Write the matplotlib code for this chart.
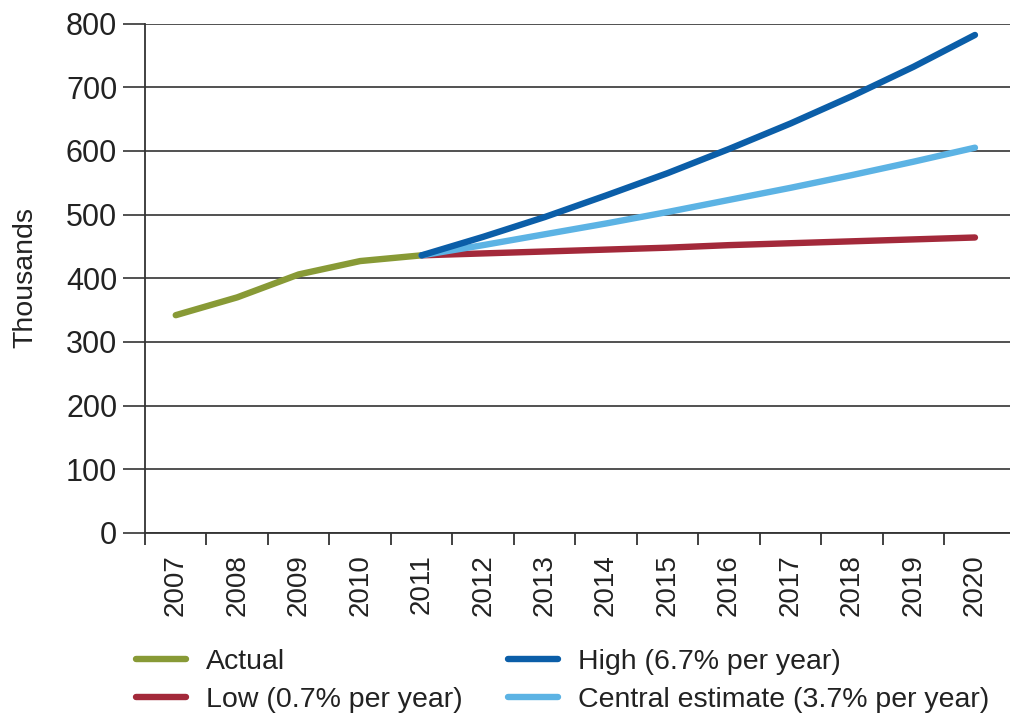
import numpy as np
import matplotlib
matplotlib.use("Agg")
import matplotlib.pyplot as plt

plt.rcParams['font.family'] = ['Liberation Sans', 'DejaVu Sans']

years = ['2007', '2008', '2009', '2010', '2011', '2012', '2013',
         '2014', '2015', '2016', '2017', '2018', '2019', '2020']

# actual values 2007-2011 (thousands)
actual = [342, 370, 406, 427, 436]
# projections 2011-2020 (thousands)
high = [436, 465, 496, 530, 565, 603, 643, 686, 732, 782]
central = [436, 452, 469, 486, 504, 523, 542, 562, 583, 605]
low = [436, 439, 442, 445, 448, 452, 455, 458, 461, 464]

c_actual = '#889a36'
c_low = '#a3293a'
c_high = '#0b5ea8'
c_central = '#5cb3e4'
ink = '#222222'

W, H = 1010, 717
fig = plt.figure(figsize=(W / 100, H / 100), dpi=100)
ax = fig.add_axes([145 / W, 1 - 533 / H, (W - 145) / W, (533 - 23.5) / H])

x = np.arange(len(years))
x_act = x[:len(actual)]
x_proj = x[len(actual) - 1:]

lw = 4.6
ax.plot(x_act, actual, color=c_actual, lw=lw, solid_capstyle='round',
        solid_joinstyle='round', label='Actual', zorder=3)
ax.plot(x_proj, low, color=c_low, lw=lw, solid_capstyle='round',
        label='Low (0.7% per year)', zorder=4)
ax.plot(x_proj, central, color=c_central, lw=lw, solid_capstyle='round',
        label='Central estimate (3.7% per year)', zorder=5)
ax.plot(x_proj, high, color=c_high, lw=lw, solid_capstyle='round',
        label='High (6.7% per year)', zorder=6)

ax.set_xlim(-0.5, 13.57)
ax.set_ylim(0, 800)
ax.set_yticks(range(0, 801, 100))
ax.yaxis.grid(True, color='#333333', lw=1.2)
ax.set_axisbelow(True)

ax.set_xticks(x)
ax.set_xticklabels(years, rotation=90, fontsize=20, color=ink)
ax.set_xticks(np.arange(-0.5, 13, 1), minor=True)
ax.tick_params(axis='x', which='major', length=0, pad=15.5)
ax.tick_params(axis='x', which='minor', length=8.6, width=1.3,
               color='#333333', direction='out')
ax.tick_params(axis='y', length=16, width=1.2, color='#333333', pad=4,
               labelsize=22, labelcolor=ink)

for s in ['top', 'right']:
    ax.spines[s].set_visible(False)
for s in ['left', 'bottom']:
    ax.spines[s].set_color('#333333')
    ax.spines[s].set_linewidth(1.3)

fig.text(25 / W, 1 - 278 / H, 'Thousands', rotation=90, ha='center',
         va='center', fontsize=20.5, color=ink)

h, l = ax.get_legend_handles_labels()
order = [0, 1, 3, 2]
leg = fig.legend([h[i] for i in order], [l[i] for i in order], ncol=2,
                 loc='upper left', bbox_to_anchor=(136 / W, 1 - 649 / H),
                 frameon=False, fontsize=20.5, handlelength=1.75,
                 handletextpad=0.7, columnspacing=1.6, labelspacing=0.42,
                 borderpad=0, borderaxespad=0)
for t in leg.get_texts():
    t.set_color(ink)

fig.savefig('out.png', dpi=100)
